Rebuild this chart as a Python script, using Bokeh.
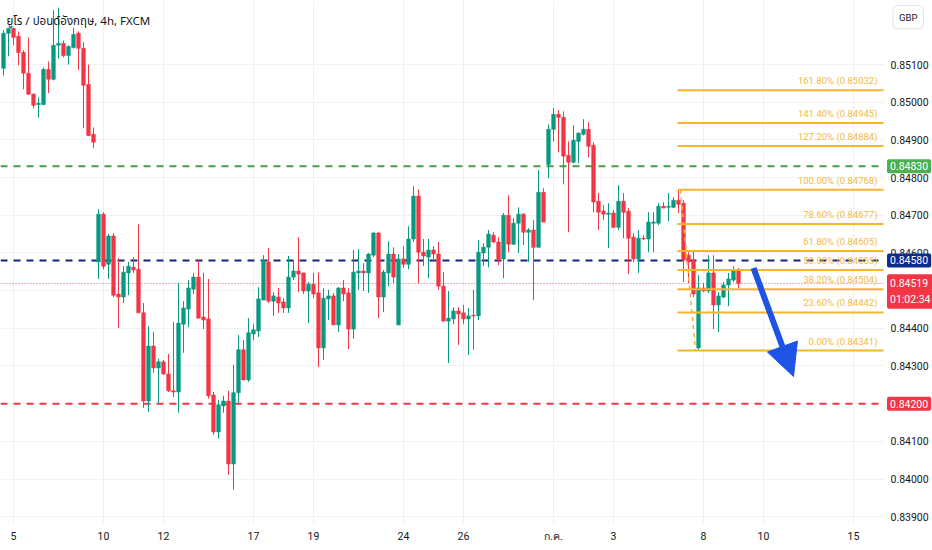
from bokeh.plotting import figure
from bokeh.models import (Range1d, FixedTicker, Label, Arrow, NormalHead,
                          ColumnDataSource, PrintfTickFormatter)
from bokeh.core.properties import value
from bokeh.embed import file_html
from bokeh.resources import INLINE

# ---------------- data ----------------
title_text = "ยูโร / ปอนด์อังกฤษ, 4h, FXCM"
currency = "GBP"

opens = [0.85090, 0.85183, 0.85196, 0.85175, 0.85132, 0.85077, 0.85021, 0.84994, 0.84994, 0.85087,
         0.85061, 0.85151, 0.85156, 0.85124, 0.85145, 0.85183, 0.85143, 0.85047, 0.84915, 0.84576,
         0.84703, 0.84570, 0.84645, 0.84491, 0.84483, 0.84547, 0.84562, 0.84557, 0.84441, 0.84207,
         0.84353, 0.84295, 0.84311, 0.84279, 0.84234, 0.84231, 0.84411, 0.84451, 0.84504, 0.84536,
         0.84430, 0.84425, 0.84223, 0.84125, 0.84194, 0.84207, 0.84040, 0.84229, 0.84343, 0.84263,
         0.84385, 0.84393, 0.84475, 0.84576, 0.84472, 0.84483, 0.84470, 0.84454, 0.84536, 0.84552,
         0.84547, 0.84499, 0.84517, 0.84494, 0.84348, 0.84478, 0.84486, 0.84409, 0.84507, 0.84494,
         0.84398, 0.84547, 0.84552, 0.84547, 0.84594, 0.84653, 0.84483, 0.84547, 0.84597, 0.84409,
         0.84584, 0.84570, 0.84637, 0.84751, 0.84602, 0.84589, 0.84608, 0.84597, 0.84512, 0.84419,
         0.84425, 0.84446, 0.84441, 0.84425, 0.84435, 0.84433, 0.84600, 0.84615, 0.84647, 0.84629,
         0.84584, 0.84700, 0.84623, 0.84679, 0.84703, 0.84655, 0.84661, 0.84615, 0.84761, 0.84835,
         0.84928, 0.84968, 0.84960, 0.84859, 0.84841, 0.84896, 0.84915, 0.84928, 0.84886, 0.84737,
         0.84711, 0.84703, 0.84706, 0.84668, 0.84737, 0.84711, 0.84642, 0.84584, 0.84639, 0.84637,
         0.84679, 0.84679, 0.84724, 0.84721, 0.84721, 0.84740, 0.84732, 0.84594, 0.84581, 0.84348,
         0.84507, 0.84499, 0.84547, 0.84462, 0.84483, 0.84515, 0.84528, 0.84552]
highs = [0.85191, 0.85198, 0.85198, 0.85188, 0.85138, 0.85172, 0.85024, 0.85013, 0.85092, 0.85108,
         0.85244, 0.85251, 0.85164, 0.85151, 0.85198, 0.85188, 0.85159, 0.85100, 0.84933, 0.84716,
         0.84708, 0.84650, 0.84653, 0.84586, 0.84565, 0.84576, 0.84589, 0.84676, 0.84467, 0.84406,
         0.84390, 0.84319, 0.84316, 0.84332, 0.84417, 0.84520, 0.84472, 0.84528, 0.84547, 0.84581,
         0.84547, 0.84531, 0.84231, 0.84210, 0.84221, 0.84234, 0.84303, 0.84382, 0.84369, 0.84427,
         0.84411, 0.84509, 0.84594, 0.84613, 0.84496, 0.84507, 0.84480, 0.84592, 0.84581, 0.84642,
         0.84547, 0.84523, 0.84547, 0.84549, 0.84507, 0.84502, 0.84494, 0.84509, 0.84528, 0.84507,
         0.84608, 0.84610, 0.84573, 0.84600, 0.84655, 0.84655, 0.84555, 0.84631, 0.84615, 0.84597,
         0.84618, 0.84671, 0.84777, 0.84769, 0.84637, 0.84637, 0.84618, 0.84629, 0.84549, 0.84499,
         0.84456, 0.84456, 0.84462, 0.84454, 0.84502, 0.84634, 0.84626, 0.84661, 0.84655, 0.84642,
         0.84706, 0.84753, 0.84692, 0.84721, 0.84706, 0.84666, 0.84687, 0.84820, 0.84772, 0.84941,
         0.84984, 0.84979, 0.84976, 0.84896, 0.84939, 0.84920, 0.84955, 0.84947, 0.84894, 0.84759,
         0.84727, 0.84732, 0.84714, 0.84780, 0.84759, 0.84719, 0.84653, 0.84661, 0.84647, 0.84708,
         0.84708, 0.84732, 0.84735, 0.84759, 0.84748, 0.84768, 0.84740, 0.84602, 0.84608, 0.84541,
         0.84520, 0.84594, 0.84594, 0.84496, 0.84523, 0.84547, 0.84565, 0.84560]
lows = [0.85071, 0.85122, 0.85151, 0.85098, 0.85034, 0.85021, 0.84984, 0.84960, 0.84992, 0.85024,
        0.85058, 0.85116, 0.85119, 0.85100, 0.85143, 0.85085, 0.84931, 0.84910, 0.84878, 0.84531,
        0.84557, 0.84531, 0.84483, 0.84401, 0.84467, 0.84488, 0.84547, 0.84441, 0.84189, 0.84178,
        0.84282, 0.84202, 0.84276, 0.84231, 0.84218, 0.84176, 0.84335, 0.84403, 0.84491, 0.84427,
        0.84398, 0.84213, 0.84117, 0.84107, 0.84176, 0.84011, 0.83972, 0.84202, 0.84263, 0.84258,
        0.84369, 0.84377, 0.84475, 0.84467, 0.84433, 0.84441, 0.84441, 0.84441, 0.84528, 0.84496,
        0.84491, 0.84414, 0.84480, 0.84297, 0.84316, 0.84422, 0.84409, 0.84390, 0.84472, 0.84345,
        0.84372, 0.84502, 0.84499, 0.84494, 0.84589, 0.84427, 0.84443, 0.84512, 0.84520, 0.84409,
        0.84560, 0.84557, 0.84629, 0.84520, 0.84565, 0.84533, 0.84576, 0.84502, 0.84419, 0.84308,
        0.84411, 0.84356, 0.84411, 0.84329, 0.84343, 0.84422, 0.84565, 0.84562, 0.84626, 0.84568,
        0.84533, 0.84602, 0.84621, 0.84600, 0.84621, 0.84576, 0.84475, 0.84615, 0.84682, 0.84798,
        0.84896, 0.84867, 0.84782, 0.84655, 0.84838, 0.84838, 0.84912, 0.84854, 0.84708, 0.84661,
        0.84687, 0.84613, 0.84666, 0.84661, 0.84639, 0.84544, 0.84576, 0.84547, 0.84634, 0.84602,
        0.84602, 0.84674, 0.84719, 0.84684, 0.84719, 0.84706, 0.84523, 0.84520, 0.84483, 0.84341,
        0.84496, 0.84494, 0.84398, 0.84390, 0.84480, 0.84459, 0.84523, 0.84507]
closes = [0.85183, 0.85196, 0.85172, 0.85132, 0.85077, 0.85021, 0.84992, 0.84997, 0.85087, 0.85061,
          0.85151, 0.85156, 0.85124, 0.85148, 0.85180, 0.85143, 0.85045, 0.84912, 0.84894, 0.84703,
          0.84565, 0.84645, 0.84488, 0.84483, 0.84549, 0.84565, 0.84555, 0.84441, 0.84207, 0.84353,
          0.84295, 0.84311, 0.84279, 0.84234, 0.84231, 0.84414, 0.84454, 0.84507, 0.84536, 0.84427,
          0.84422, 0.84221, 0.84125, 0.84197, 0.84207, 0.84040, 0.84229, 0.84343, 0.84263, 0.84388,
          0.84396, 0.84478, 0.84581, 0.84472, 0.84486, 0.84467, 0.84454, 0.84536, 0.84552, 0.84544,
          0.84499, 0.84517, 0.84491, 0.84348, 0.84480, 0.84486, 0.84409, 0.84507, 0.84491, 0.84398,
          0.84549, 0.84552, 0.84547, 0.84597, 0.84653, 0.84483, 0.84549, 0.84597, 0.84536, 0.84584,
          0.84570, 0.84637, 0.84751, 0.84602, 0.84592, 0.84608, 0.84597, 0.84512, 0.84419, 0.84427,
          0.84446, 0.84438, 0.84425, 0.84433, 0.84433, 0.84602, 0.84615, 0.84650, 0.84629, 0.84584,
          0.84700, 0.84623, 0.84679, 0.84703, 0.84655, 0.84661, 0.84615, 0.84761, 0.84682, 0.84928,
          0.84968, 0.84960, 0.84857, 0.84841, 0.84899, 0.84918, 0.84928, 0.84883, 0.84735, 0.84708,
          0.84703, 0.84706, 0.84668, 0.84737, 0.84708, 0.84639, 0.84584, 0.84639, 0.84637, 0.84682,
          0.84682, 0.84724, 0.84719, 0.84724, 0.84740, 0.84729, 0.84581, 0.84576, 0.84491, 0.84507,
          0.84499, 0.84547, 0.84462, 0.84486, 0.84515, 0.84531, 0.84552, 0.84519]

date_tick_index = [2, 20, 32, 50, 62, 80, 92, 110, 122, 140, 152, 170]
date_tick_labels = ["5", "10", "12", "17", "19", "24", "26", "ก.ค.", "3", "8", "10", "15"]
price_ticks = [0.839, 0.840, 0.841, 0.842, 0.843, 0.844, 0.845, 0.846, 0.847, 0.848, 0.849, 0.850, 0.851]

fib_ratios = ["161.80%", "141.40%", "127.20%", "100.00%", "78.60%", "61.80%", "50.00%", "38.20%", "23.60%", "0.00%"]
fib_levels = [0.85032, 0.84945, 0.84884, 0.84768, 0.84677, 0.84605, 0.84555, 0.84504, 0.84442, 0.84341]
fib_start_index = 134.8
fib_trend_index = [135.4, 138.4]
fib_trend_price = [0.84768, 0.84341]

resistance_level = 0.84830
pivot_level = 0.84580
support_level = 0.84200
last_price = 0.84519
countdown = "01:02:34"

arrow_from = (150.0, 0.84560)
arrow_to = (158.0, 0.84272)

# ---------------- styles / layout ----------------
UP = "#089981"
DOWN = "#f23645"
FIB = "#f7b52c"
FIB_TEXT = "#f5b93d"
GRID = "#eff1f5"
TXT = "#131722"
FONT = "Roboto"
THAI = "'Noto Sans Thai', Loma, Garuda, Tahoma, 'Noto Sans', sans-serif"

X0, X_AXIS, X1 = -0.6, 176.0, 185.8     # left edge, price-scale position, right edge
Y0, Y1 = 0.83882, 0.85270

n = len(closes)
idx = list(range(n))
colors = [UP if c >= o else DOWN for o, c in zip(opens, closes)]
src = ColumnDataSource(dict(
    x=idx, o=opens, h=highs, l=lows, c=closes,
    top=[max(o, c) for o, c in zip(opens, closes)],
    bot=[min(o, c) for o, c in zip(opens, closes)],
    color=colors))

p = figure(width=932, height=545, x_range=Range1d(X0, X1), y_range=Range1d(Y0, Y1),
           output_backend="svg", toolbar_location=None, y_axis_location="right",
           min_border=0, min_border_left=0, min_border_right=0, min_border_top=0, min_border_bottom=0)
p.outline_line_color = None
p.background_fill_color = "white"
p.border_fill_color = "white"

# grid
p.xgrid.ticker = FixedTicker(ticks=date_tick_index)
p.ygrid.ticker = FixedTicker(ticks=price_ticks)
p.xgrid.grid_line_color = GRID
p.ygrid.grid_line_color = GRID
if "cross_bounds" in p.ygrid[0].properties():
    p.ygrid[0].cross_bounds = (X0, X_AXIS)
    p.xgrid[0].cross_bounds = (Y0, Y1)

# axes
p.xaxis.ticker = FixedTicker(ticks=date_tick_index)
p.xaxis.major_label_overrides = {t: s for t, s in zip(date_tick_index, date_tick_labels)}
p.yaxis.ticker = FixedTicker(ticks=price_ticks)
p.yaxis.formatter = PrintfTickFormatter(format="%.5f")
p.yaxis.fixed_location = X_AXIS
for ax in (p.xaxis[0], p.yaxis[0]):
    ax.axis_line_color = None
    ax.major_tick_line_color = None
    ax.minor_tick_line_color = None
    ax.major_tick_out = 0
    ax.major_tick_in = 0
    ax.major_label_text_color = TXT
    ax.major_label_text_font_size = "10.5px"
    ax.major_label_text_font = FONT
p.xaxis.major_label_standoff = 6
p.yaxis.major_label_standoff = 7

# level lines (end at the price scale)
lv = [resistance_level, pivot_level, support_level]
p.segment(x0=[X0] * 3, x1=[X_AXIS] * 3, y0=lv, y1=lv,
          line_color=["#43a047", "#14237e", DOWN], line_width=2, line_dash="7 6")
p.segment(x0=[X0], x1=[X_AXIS], y0=[last_price], y1=[last_price],
          line_color=DOWN, line_width=1, line_dash="1 2", line_alpha=0.8)

# candles
p.segment(x0="x", y0="h", x1="x", y1="l", color="color", line_width=1, source=src)
p.vbar(x="x", top="top", bottom="bot", width=0.72, fill_color="color", line_color="color",
       line_width=0.6, source=src)

# fibonacci
p.segment(x0=[fib_start_index] * len(fib_levels), y0=fib_levels, x1=[X_AXIS] * len(fib_levels),
          y1=fib_levels, line_color=FIB, line_width=2)
p.line(fib_trend_index, fib_trend_price, line_color=FIB, line_width=1.5, line_dash="4 4")
p.text(x=[X_AXIS - 1.2] * len(fib_levels), y=fib_levels,
       text=[f"{r} ({v:.5f})" for r, v in zip(fib_ratios, fib_levels)],
       text_align="right", text_baseline="bottom", y_offset=-4,
       text_color=FIB_TEXT, text_font_size="9.5px", text_font=value(FONT))

# arrow
p.add_layout(Arrow(x_start=arrow_from[0], y_start=arrow_from[1], x_end=arrow_to[0], y_end=arrow_to[1],
                   line_color="#1e53e5", line_width=6,
                   end=NormalHead(size=32, fill_color="#1e53e5", line_color="#1e53e5")))

# title
p.add_layout(Label(x=X0 + 1.2, y=0.85214, text=title_text, text_font=THAI, text_font_size="11.5px",
                   text_color=TXT, text_baseline="middle", text_align="left"))

# price boxes on the price scale
def price_box(level, color, text, dy=0):
    p.add_layout(Label(x=X_AXIS + 0.7, y=level, y_offset=dy, text=text, text_color="white",
                       text_font=FONT, text_font_size="10.5px", text_baseline="middle",
                       text_align="left", background_fill_color=color, padding=3, border_radius=2))

price_box(resistance_level, "#4caf50", f"{resistance_level:.5f}")
price_box(pivot_level, "#0e2a8c", f"{pivot_level:.5f}")
price_box(support_level, DOWN, f"{support_level:.5f}")
price_box(last_price, DOWN, f"{last_price:.5f}\n{countdown}", dy=-8)

# currency box
p.add_layout(Label(x=X_AXIS + 1.9, y=0.85226, text=currency, text_color=TXT, text_font=FONT,
                   text_font_size="9.5px", text_baseline="middle", text_align="left",
                   background_fill_color="white", border_line_color="#e0e3eb",
                   padding=6, border_radius=4))

open("out.html", "w").write(file_html(p, INLINE))
